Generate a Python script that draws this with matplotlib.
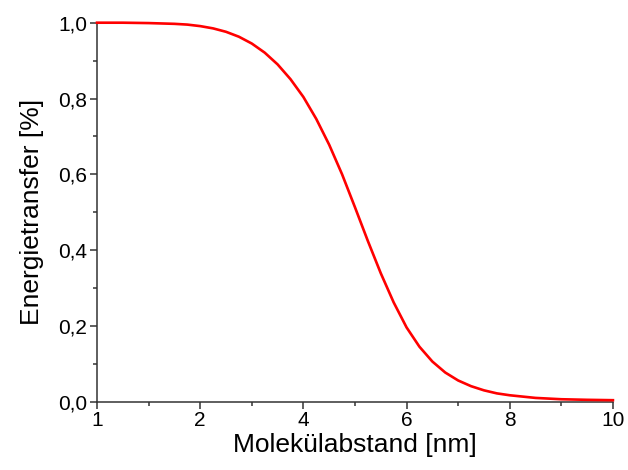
import numpy as np
import matplotlib.pyplot as plt

# Werte
abstand = [0.0, 0.5, 1.0, 1.5, 1.75, 2.0, 2.25, 2.5, 2.75, 3.0, 3.25, 3.5, 3.75,
           4.0, 4.25, 4.5, 4.75, 5.0, 5.25, 5.5, 5.75, 6.0, 6.25, 6.5, 6.75,
           7.0, 7.25, 7.5, 7.75, 8.0, 8.5, 9.0, 9.5, 10.0]
transfer = [1.000, 1.000, 0.999, 0.997, 0.995, 0.991, 0.985, 0.976, 0.963, 0.945,
            0.921, 0.890, 0.851, 0.804, 0.746, 0.678, 0.600, 0.513, 0.424, 0.339,
            0.262, 0.196, 0.145, 0.106, 0.077, 0.056, 0.041, 0.030, 0.022, 0.017,
            0.010, 0.0065, 0.005, 0.004]

x_ticks = [0, 2, 4, 6, 8, 10]
x_labels = ['1', '2', '4', '6', '8', '10']
y_ticks = [0.0, 0.2, 0.4, 0.6, 0.8, 1.0]
y_labels = ['0,0', '0,2', '0,4', '0,6', '0,8', '1,0']

plt.rcParams['font.family'] = ['Liberation Sans', 'DejaVu Sans']

fig = plt.figure(figsize=(6.28, 4.70), dpi=100)
ax = fig.add_axes([0.1545, 0.1453, 0.8215, 0.8064])

ax.plot(abstand, transfer, color='#ff0000', linewidth=1.9, clip_on=False,
        zorder=3, solid_joinstyle='round')

ax.set_xlim(0, 10)
ax.set_ylim(0, 1.0)
ax.set_xticks(x_ticks)
ax.set_xticklabels(x_labels)
ax.set_xticks([1, 3, 5, 7, 9], minor=True)
ax.set_yticks(y_ticks)
ax.set_yticklabels(y_labels)
ax.set_yticks([0.1, 0.3, 0.5, 0.7, 0.9], minor=True)

ax.spines['top'].set_visible(False)
ax.spines['right'].set_visible(False)
for s in ['left', 'bottom']:
    ax.spines[s].set_linewidth(1.1)
    ax.spines[s].set_color('#333333')

ax.tick_params(which='major', direction='out', length=5, width=1.1,
               color='#333333', labelsize=15, pad=2)
ax.tick_params(which='minor', direction='out', length=3, width=1.1, color='#333333')

ax.set_xlabel('Molekülabstand [nm]', fontsize=19, labelpad=2)
ax.set_ylabel('Energietransfer [%]', fontsize=19, labelpad=10)

fig.savefig('out.png', dpi=100)
